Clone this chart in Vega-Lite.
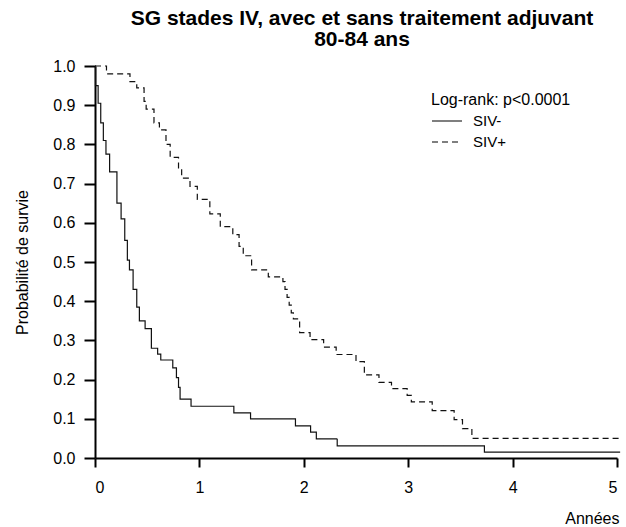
{
  "$schema": "https://vega.github.io/schema/vega-lite/v6.json",
  "width": 522,
  "height": 392,
  "autosize": "none",
  "padding": {"left": 95, "top": 66, "right": 9, "bottom": 69},
  "background": "white",
  "config": {
    "font": "Liberation Sans",
    "view": {"stroke": null},
    "axis": {"grid": false, "domainColor": "black", "domainWidth": 2, "tickColor": "black", "tickWidth": 2, "labelColor": "black", "titleColor": "black", "labelFont": "Liberation Sans", "titleFont": "Liberation Sans", "titleFontWeight": "normal"}
  },
  "title": {
    "text": ["SG stades IV, avec et sans traitement adjuvant", "80-84 ans"],
    "font": "Liberation Sans",
    "fontSize": 21,
    "fontWeight": "bold",
    "color": "black",
    "anchor": "middle",
    "lineHeight": 21,
    "offset": 8,
    "dx": 6
  },
  "data": {
    "values": [
      {"g": "SIV-", "t": 0, "s": 1.0},
      {"g": "SIV-", "t": 0.005, "s": 0.95},
      {"g": "SIV-", "t": 0.03, "s": 0.905},
      {"g": "SIV-", "t": 0.055, "s": 0.855},
      {"g": "SIV-", "t": 0.08, "s": 0.81},
      {"g": "SIV-", "t": 0.105, "s": 0.775},
      {"g": "SIV-", "t": 0.14, "s": 0.73},
      {"g": "SIV-", "t": 0.21, "s": 0.65},
      {"g": "SIV-", "t": 0.25, "s": 0.61},
      {"g": "SIV-", "t": 0.285, "s": 0.555},
      {"g": "SIV-", "t": 0.31, "s": 0.505},
      {"g": "SIV-", "t": 0.33, "s": 0.48},
      {"g": "SIV-", "t": 0.365, "s": 0.43},
      {"g": "SIV-", "t": 0.4, "s": 0.385},
      {"g": "SIV-", "t": 0.425, "s": 0.35},
      {"g": "SIV-", "t": 0.48, "s": 0.33},
      {"g": "SIV-", "t": 0.54, "s": 0.28},
      {"g": "SIV-", "t": 0.6, "s": 0.265},
      {"g": "SIV-", "t": 0.63, "s": 0.25},
      {"g": "SIV-", "t": 0.745, "s": 0.23},
      {"g": "SIV-", "t": 0.78, "s": 0.205},
      {"g": "SIV-", "t": 0.8, "s": 0.18},
      {"g": "SIV-", "t": 0.815, "s": 0.15},
      {"g": "SIV-", "t": 0.92, "s": 0.132},
      {"g": "SIV-", "t": 1.33, "s": 0.115},
      {"g": "SIV-", "t": 1.49, "s": 0.1},
      {"g": "SIV-", "t": 1.92, "s": 0.082},
      {"g": "SIV-", "t": 2.065, "s": 0.066},
      {"g": "SIV-", "t": 2.12, "s": 0.049},
      {"g": "SIV-", "t": 2.32, "s": 0.031},
      {"g": "SIV-", "t": 3.73, "s": 0.015},
      {"g": "SIV-", "t": 5.03, "s": 0.015},
      {"g": "SIV+", "t": 0, "s": 1.0},
      {"g": "SIV+", "t": 0.11, "s": 0.98},
      {"g": "SIV+", "t": 0.335, "s": 0.96},
      {"g": "SIV+", "t": 0.4, "s": 0.944},
      {"g": "SIV+", "t": 0.47, "s": 0.91},
      {"g": "SIV+", "t": 0.49, "s": 0.89},
      {"g": "SIV+", "t": 0.565, "s": 0.855},
      {"g": "SIV+", "t": 0.617, "s": 0.837},
      {"g": "SIV+", "t": 0.68, "s": 0.8},
      {"g": "SIV+", "t": 0.72, "s": 0.767},
      {"g": "SIV+", "t": 0.8, "s": 0.74},
      {"g": "SIV+", "t": 0.83, "s": 0.714},
      {"g": "SIV+", "t": 0.91, "s": 0.693},
      {"g": "SIV+", "t": 0.98, "s": 0.66},
      {"g": "SIV+", "t": 1.1, "s": 0.623},
      {"g": "SIV+", "t": 1.2, "s": 0.59},
      {"g": "SIV+", "t": 1.32, "s": 0.57},
      {"g": "SIV+", "t": 1.38, "s": 0.54},
      {"g": "SIV+", "t": 1.42, "s": 0.516},
      {"g": "SIV+", "t": 1.5, "s": 0.48},
      {"g": "SIV+", "t": 1.66, "s": 0.462},
      {"g": "SIV+", "t": 1.8, "s": 0.45},
      {"g": "SIV+", "t": 1.82, "s": 0.43},
      {"g": "SIV+", "t": 1.84, "s": 0.41},
      {"g": "SIV+", "t": 1.86, "s": 0.39},
      {"g": "SIV+", "t": 1.88, "s": 0.37},
      {"g": "SIV+", "t": 1.9, "s": 0.355},
      {"g": "SIV+", "t": 1.96, "s": 0.32},
      {"g": "SIV+", "t": 2.06, "s": 0.302},
      {"g": "SIV+", "t": 2.19, "s": 0.283},
      {"g": "SIV+", "t": 2.31, "s": 0.264},
      {"g": "SIV+", "t": 2.5, "s": 0.246},
      {"g": "SIV+", "t": 2.58, "s": 0.212},
      {"g": "SIV+", "t": 2.72, "s": 0.193},
      {"g": "SIV+", "t": 2.84, "s": 0.177},
      {"g": "SIV+", "t": 2.99, "s": 0.16},
      {"g": "SIV+", "t": 3.03, "s": 0.143},
      {"g": "SIV+", "t": 3.23, "s": 0.121},
      {"g": "SIV+", "t": 3.44, "s": 0.098},
      {"g": "SIV+", "t": 3.52, "s": 0.075},
      {"g": "SIV+", "t": 3.61, "s": 0.05},
      {"g": "SIV+", "t": 5.03, "s": 0.05}
    ]
  },
  "mark": {"type": "line", "interpolate": "step-after", "color": "#111", "strokeWidth": 1.2},
  "encoding": {
    "x": {
      "field": "t", "type": "quantitative",
      "scale": {"domain": [0, 5], "nice": false, "zero": false},
      "axis": {"values": [0, 1, 2, 3, 4, 5], "tickSize": 9, "labelFontSize": 16, "labelPadding": 12, "title": "Années", "titleFontSize": 16, "titleAnchor": "end", "titleAlign": "right", "titleX": 524, "titleY": 65, "titleBaseline": "alphabetic"}
    },
    "y": {
      "field": "s", "type": "quantitative",
      "scale": {"domain": [0, 1], "nice": false},
      "axis": {"values": [0, 0.1, 0.2, 0.3, 0.4, 0.5, 0.6, 0.7, 0.8, 0.9, 1.0], "format": ".1f", "tickSize": 11, "labelFontSize": 16, "labelPadding": 9, "title": "Probabilité de survie", "titleFontSize": 16, "titleX": -73, "titleY": 196, "titleAlign": "center", "titleBaseline": "middle", "titleAngle": -90}
    },
    "strokeDash": {
      "field": "g", "type": "nominal",
      "scale": {"domain": ["SIV-", "SIV+"], "range": [[1, 0], [6, 4]]},
      "legend": {
        "title": "Log-rank: p<0.0001",
        "orient": "none",
        "legendX": 336,
        "legendY": 26,
        "titleFontSize": 16,
        "titleFontWeight": "normal",
        "titleColor": "black",
        "titleFont": "Liberation Sans",
        "titlePadding": 3,
        "labelFontSize": 15,
        "labelColor": "black",
        "labelFont": "Liberation Sans",
        "labelOffset": 10,
        "rowPadding": 1,
        "clipHeight": 20,
        "symbolType": "stroke",
        "symbolSize": 900,
        "symbolStrokeColor": "black",
        "symbolStrokeWidth": 1.2,
        "symbolDash": null
      }
    }
  }
}
